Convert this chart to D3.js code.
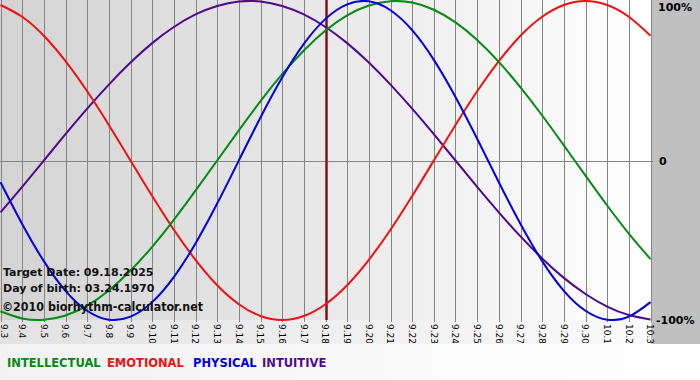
<!DOCTYPE html>
<html lang="en">
<head>
    <meta charset="UTF-8">
    <title>Biorhythm</title>
    <style>
        body { margin: 0; background: #fff; }
        svg { display: block; }
    </style>
</head>
<body>
    <script src="https://cdnjs.cloudflare.com/ajax/libs/d3/7.8.5/d3.min.js"></script>
    <script>
        // days shown on the x axis (09.03 -> 10.03)
        const days = ['9.3','9.4','9.5','9.6','9.7','9.8','9.9','9.10','9.11','9.12','9.13','9.14','9.15','9.16','9.17',
                      '9.18','9.19','9.20','9.21','9.22','9.23','9.24','9.25','9.26','9.27','9.28','9.29','9.30','10.1','10.2','10.3'];
        const targetDay = '9.18';

        // cycle values per day (-1 .. 1)
        const physical = [-0.136,-0.398,-0.631,-0.817,-0.942,-0.998,-0.979,-0.888,-0.731,-0.520,-0.270,0.000,0.270,0.520,0.731,
                          0.888,0.979,0.998,0.942,0.817,0.631,0.398,0.136,-0.136,-0.398,-0.631,-0.817,-0.942,-0.998,-0.979,-0.888];
        const emotional = [0.975,0.901,0.782,0.623,0.434,0.223,0.000,-0.223,-0.434,-0.623,-0.782,-0.901,-0.975,-1.000,-0.975,
                           -0.901,-0.782,-0.623,-0.434,-0.223,0.000,0.223,0.434,0.623,0.782,0.901,0.975,1.000,0.975,0.901,0.782];
        const intellectual = [-0.945,-0.990,-0.999,-0.972,-0.910,-0.815,-0.690,-0.541,-0.372,-0.189,0.000,0.189,0.372,0.541,0.690,
                              0.815,0.910,0.972,0.999,0.990,0.945,0.866,0.756,0.618,0.458,0.282,0.095,-0.095,-0.282,-0.458,-0.618];
        const intuitive = [-0.325,-0.165,0.000,0.165,0.325,0.476,0.614,0.736,0.837,0.916,0.969,0.997,0.997,0.969,0.916,
                           0.837,0.736,0.614,0.476,0.325,0.165,0.000,-0.165,-0.325,-0.476,-0.614,-0.736,-0.837,-0.916,-0.969,-0.997];

        const yTicks = [1, 0, -1];
        const yTickLabels = ['100%', '0', '-100%'];

        const legendNames = ['INTELLECTUAL', 'EMOTIONAL', 'PHYSICAL', 'INTUITIVE'];
        const legendX = [7, 107, 193, 262];
        const colors = ['#058a13', '#ee1111', '#0000dd', '#4f0a8c'];

        const infoLines = ['Target Date: 09.18.2025', 'Day of birth: 03.24.1970'];
        const credit = '\u00A92010 biorhythm-calculator.net';

        const width = 700, height = 380;
        const plotRight = 651, plotTop = 1, plotBottom = 320, axisBottom = 344;

        const svg = d3.select('body').append('svg')
            .attr('width', width)
            .attr('height', height);

        const defs = svg.append('defs');

        function grad(id, from, to) {
            const g = defs.append('linearGradient').attr('id', id)
                .attr('x1', '0%').attr('x2', '100%').attr('y1', '0%').attr('y2', '0%');
            g.append('stop').attr('offset', '0%').attr('stop-color', from);
            g.append('stop').attr('offset', '100%').attr('stop-color', to);
        }
        grad('plotBg', '#d3d3d3', '#ffffff');
        grad('axisBg', '#e2e2e2', '#fbfbfb');
        grad('legendBg', '#f2f2f2', '#ffffff');

        defs.append('clipPath').attr('id', 'axisClip')
            .append('rect').attr('x', 0).attr('y', plotBottom).attr('width', plotRight + 6).attr('height', axisBottom - 1 - plotBottom);

        // backgrounds
        svg.append('rect').attr('x', 0).attr('y', axisBottom).attr('width', width).attr('height', height - axisBottom)
            .attr('fill', 'url(#legendBg)');
        svg.append('rect').attr('x', 0).attr('y', plotBottom).attr('width', plotRight).attr('height', axisBottom - plotBottom)
            .attr('fill', 'url(#axisBg)');
        svg.append('rect').attr('x', 0).attr('y', 0).attr('width', plotRight).attr('height', plotBottom)
            .attr('fill', 'url(#plotBg)');
        svg.append('rect').attr('x', plotRight).attr('y', 0).attr('width', width - plotRight).attr('height', axisBottom)
            .attr('fill', '#c0c0c0');

        // scales
        const x = d3.scaleLinear().domain([0, days.length - 1]).range([0.5, plotRight - 0.5]);
        const y = d3.scaleLinear().domain([-1, 1]).range([plotBottom, plotTop]);

        // vertical day grid
        svg.append('g').selectAll('line').data(days).enter().append('line')
            .attr('x1', (d, i) => Math.round(x(i)) + 0.5)
            .attr('x2', (d, i) => Math.round(x(i)) + 0.5)
            .attr('y1', 0)
            .attr('y2', plotBottom + 2)
            .attr('stroke', '#858585')
            .attr('stroke-width', 1);

        // zero line
        svg.append('line')
            .attr('x1', 0).attr('x2', plotRight + 2)
            .attr('y1', Math.round(y(0)) + 0.5).attr('y2', Math.round(y(0)) + 0.5)
            .attr('stroke', '#858585');

        // x axis labels, rotated and cut off at the bottom
        svg.append('g').attr('clip-path', 'url(#axisClip)')
            .selectAll('text').data(days).enter().append('text')
            .attr('transform', (d, i) => `translate(${Math.max(x(i), 4)}, ${plotBottom + 4}) rotate(90)`)
            .attr('dy', '0.35em')
            .attr('font-family', 'DejaVu Sans, Verdana, sans-serif')
            .attr('font-size', 9)
            .attr('fill', '#000')
            .text(d => d);

        // target date marker
        const tx = Math.round(x(days.indexOf(targetDay))) + 0.5;
        svg.append('line').attr('x1', tx).attr('x2', tx).attr('y1', 0).attr('y2', plotBottom)
            .attr('stroke', '#c06060').attr('stroke-width', 3);
        svg.append('line').attr('x1', tx).attr('x2', tx).attr('y1', 0).attr('y2', plotBottom)
            .attr('stroke', '#6e1414').attr('stroke-width', 1.6);

        // curves
        const line = d3.line()
            .x((d, i) => x(i))
            .y(d => y(d))
            .curve(d3.curveNatural);

        const series = [intellectual, emotional, physical, intuitive];
        const drawOrder = [3, 1, 0, 2];
        const plot = svg.append('g');
        drawOrder.forEach(k => {
            plot.append('path')
                .datum(series[k])
                .attr('d', line)
                .attr('fill', 'none')
                .attr('stroke', colors[k])
                .attr('stroke-width', 2);
        });

        // right side labels
        svg.append('g').selectAll('text').data(yTicks).enter().append('text')
            .attr('x', (d, i) => i == 1 ? 659 : (i == 0 ? 658 : 656))
            .attr('y', d => Math.min(Math.max(y(d), 7), plotBottom) + 4)
            .attr('font-family', 'DejaVu Sans, Verdana, sans-serif')
            .attr('font-weight', 'bold')
            .attr('font-size', 11)
            .attr('fill', '#000')
            .text((d, i) => yTickLabels[i]);

        // info text
        svg.append('g').selectAll('text').data(infoLines).enter().append('text')
            .attr('x', 3)
            .attr('y', (d, i) => 276 + i * 16)
            .attr('font-family', 'DejaVu Sans, Verdana, sans-serif')
            .attr('font-weight', 'bold')
            .attr('font-size', 11)
            .attr('fill', '#111')
            .text(d => d);

        svg.append('text')
            .attr('x', 2).attr('y', 311)
            .attr('font-family', 'DejaVu Sans, Verdana, sans-serif')
            .attr('font-weight', 'bold')
            .attr('font-size', 11.5)
            .attr('textLength', 201)
            .attr('lengthAdjust', 'spacingAndGlyphs')
            .attr('fill', '#111')
            .text(credit);

        // legend
        svg.append('g').selectAll('text').data(legendNames).enter().append('text')
            .attr('x', (d, i) => legendX[i])
            .attr('y', 367)
            .attr('font-family', 'DejaVu Sans, Verdana, sans-serif')
            .attr('font-weight', 'bold')
            .attr('font-size', 11.5)
            .attr('fill', (d, i) => colors[i])
            .text(d => d);
    </script>
</body>
</html>
